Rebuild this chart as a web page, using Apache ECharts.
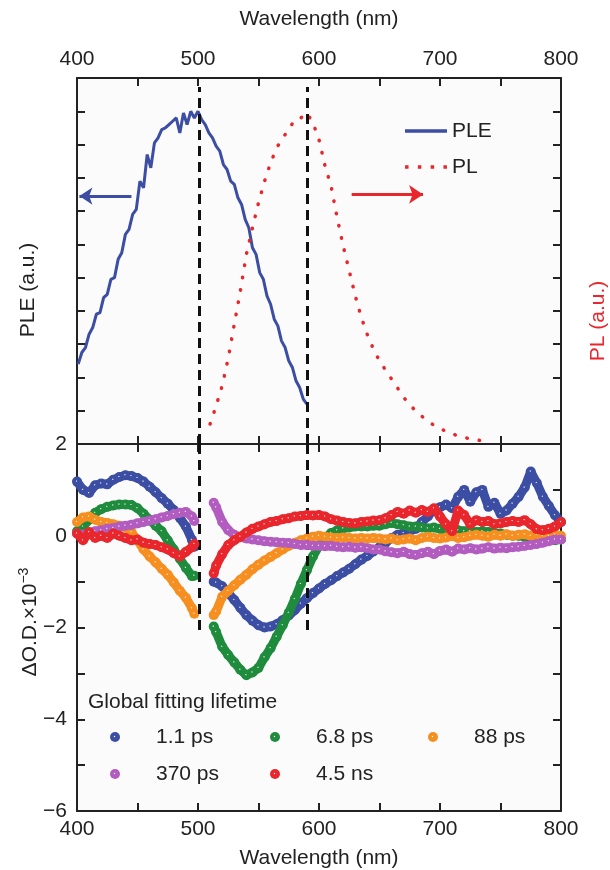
<!DOCTYPE html>
<html lang="en">
<head>
<meta charset="UTF-8">
<title>PLE / PL and transient absorption</title>
<script src="https://cdn.jsdelivr.net/npm/echarts@6/dist/echarts.min.js"></script>
<style>
  html, body { margin: 0; padding: 0; background: #fff; }
  #main { width: 610px; height: 870px; }
</style>
</head>
<body>
<div id="main"></div>
<script>
// ---- data ----
// top panel: PLE (blue line) and PL (red dots), arbitrary units
const pleWl = [401,404,407,410,413,416,419,422,425,428,431,434,437,440,443,446,449,452,455,458,
  461,464,467,470,473,476,479,482,485,488,491,494,497,500,503,506,509,512,515,518,
  521,524,527,530,533,536,539,542,545,548,551,554,557,560,563,566,569,572,575,578,
  581,584,587,590]
const pleVal = [2.4,2.75,2.9,3.3,3.5,3.9,3.95,4.4,4.5,4.95,5.0,5.55,5.75,6.3,6.45,6.9,7.05,7.9,7.7,8.7,
  8.3,9.05,9.2,9.45,9.5,9.6,9.7,9.8,9.35,9.95,9.6,10.0,9.8,10.0,9.75,9.6,9.35,9.2,8.95,8.8,
  8.4,8.25,7.9,7.8,7.4,7.2,6.75,6.5,5.9,5.7,5.15,4.95,4.45,4.2,3.75,3.55,3.1,2.9,2.5,2.3,
  1.9,1.7,1.35,1.2]
const plWl = [510,515,520,525,530,535,540,545,550,555,560,565,570,575,580,585,590,595,600,605,
  610,615,620,625,630,635,640,645,650,655,660,665,670,675,680,685,690,695,700,705,
  710,715,720,725,730,735,740]
const plVal = [0.6,1.15,1.75,2.58,3.6,4.6,5.7,6.5,7.25,7.9,8.45,8.9,9.2,9.45,9.75,9.8,9.95,9.65,9.15,8.35,
  7.75,6.8,5.95,5.2,4.45,3.8,3.28,2.85,2.5,2.22,1.95,1.68,1.4,1.18,0.99,0.83,0.69,0.56,0.47,0.38,
  0.31,0.24,0.19,0.16,0.13,0.09,0.07]

// bottom panel: global fitting components, dO.D. x 1e-3 (gap around the pump)
const wlLeft = [400,405,410,415,420,425,430,435,440,445,450,455,460,465,470,475,480,485,490,495,497]
const wlRight = [513,515,520,525,530,535,540,545,550,555,560,565,570,575,580,585,590,595,600,605,
  610,615,620,625,630,635,640,645,650,655,660,665,670,675,680,685,690,695,700,705,
  710,715,720,725,730,735,740,745,750,755,760,765,770,775,780,785,790,795,800]

const ps1Left = [1.18,1.0,0.93,1.1,1.14,1.12,1.22,1.28,1.32,1.3,1.26,1.18,1.07,0.95,0.82,0.7,0.56,0.39,0.2,-0.09,-0.24]
const ps1Right = [-1.0,-1.02,-1.1,-1.25,-1.4,-1.57,-1.73,-1.85,-1.95,-2.0,
  -1.98,-1.93,-1.84,-1.74,-1.62,-1.48,-1.36,-1.25,-1.15,-1.05,
  -0.97,-0.88,-0.8,-0.72,-0.62,-0.52,-0.44,-0.34,-0.25,-0.15,
  -0.05,0.02,0.06,0.1,0.15,0.3,0.42,0.58,0.62,0.68,
  0.6,0.85,1.0,0.74,0.95,1.0,0.63,0.72,0.48,0.55,
  0.7,0.85,1.05,1.4,1.15,0.85,0.65,0.45,0.3]

const ps7Left = [0.1,0.2,0.35,0.5,0.58,0.63,0.66,0.68,0.68,0.67,0.6,0.48,0.35,0.22,0.1,-0.1,-0.3,-0.5,-0.7,-0.88,-0.87]
const ps7Right = [-1.98,-2.1,-2.42,-2.6,-2.76,-2.92,-3.04,-2.98,-2.88,-2.65,
  -2.45,-2.2,-1.95,-1.68,-1.38,-1.05,-0.75,-0.45,-0.22,-0.05,
  0.06,0.12,0.16,0.18,0.2,0.2,0.2,0.22,0.22,0.25,
  0.28,0.25,0.23,0.2,0.2,0.18,0.16,0.18,0.15,0.12,
  0.15,0.12,0.1,0.1,0.08,0.1,0.08,0.05,0.05,0.02,
  0.0,0.0,-0.02,-0.05,-0.05,-0.08,-0.1,-0.1,-0.08]

const ps88Left = [0.3,0.4,0.42,0.35,0.3,0.28,0.25,0.22,0.18,0.08,-0.1,-0.3,-0.45,-0.58,-0.72,-0.85,-1.02,-1.2,-1.35,-1.58,-1.7]
const ps88Right = [-1.73,-1.65,-1.33,-1.2,-1.08,-0.96,-0.85,-0.73,-0.63,-0.54,
  -0.46,-0.38,-0.3,-0.22,-0.15,-0.1,-0.06,-0.02,0.0,-0.02,
  -0.04,-0.05,-0.04,-0.05,-0.06,-0.05,-0.06,-0.05,-0.06,-0.08,
  -0.06,-0.1,-0.08,-0.06,-0.1,-0.05,-0.02,-0.05,-0.06,-0.04,
  0.0,-0.05,-0.03,0.0,0.02,0.0,-0.02,0.02,0.0,0.03,
  0.0,0.02,0.03,0.0,0.02,0.0,0.0,0.02,0.0]

const ps370Left = [0.05,0.02,0.06,0.1,0.12,0.15,0.17,0.2,0.22,0.24,0.27,0.3,0.33,0.36,0.4,0.43,0.47,0.5,0.52,0.42,0.32]
const ps370Right = [0.72,0.62,0.3,0.12,0.02,-0.03,-0.06,-0.08,-0.1,-0.12,
  -0.13,-0.14,-0.15,-0.16,-0.18,-0.2,-0.2,-0.22,-0.22,-0.23,
  -0.22,-0.24,-0.25,-0.24,-0.26,-0.25,-0.27,-0.3,-0.3,-0.34,
  -0.36,-0.38,-0.35,-0.4,-0.42,-0.38,-0.35,-0.4,-0.33,-0.3,
  -0.35,-0.28,-0.3,-0.27,-0.3,-0.28,-0.25,-0.28,-0.26,-0.27,
  -0.25,-0.24,-0.22,-0.2,-0.18,-0.15,-0.12,-0.08,-0.08]

const ns45Left = [0.05,-0.1,0.08,-0.05,0.0,-0.05,0.05,0.0,-0.05,-0.1,-0.08,-0.15,-0.18,-0.2,-0.25,-0.3,-0.38,-0.45,-0.35,-0.25,-0.18]
const ns45Right = [-0.82,-0.65,-0.4,-0.2,-0.1,-0.02,0.07,0.15,0.2,0.25,
  0.3,0.32,0.36,0.38,0.42,0.43,0.45,0.44,0.45,0.42,
  0.36,0.33,0.3,0.28,0.27,0.3,0.31,0.33,0.34,0.38,
  0.45,0.52,0.48,0.55,0.5,0.56,0.52,0.6,0.42,0.25,
  0.1,0.55,0.45,0.25,0.34,0.3,0.32,0.25,0.27,0.3,
  0.32,0.3,0.34,0.25,0.14,0.12,0.15,0.2,0.3]

const lifetimes = ['1.1 ps', '6.8 ps', '88 ps', '370 ps', '4.5 ns']
const lifeColors = ['#3b4ea3', '#1e8b3d', '#f68f1f', '#b25cc0', '#e8262b']
const lifeLeft = [ps1Left, ps7Left, ps88Left, ps370Left, ns45Left]
const lifeRight = [ps1Right, ps7Right, ps88Right, ps370Right, ns45Right]

const dashWl = [501, 590] // vertical guide lines
const xTicks = [400, 500, 600, 700, 800]

// ---- chart ----
const FONT = "'Liberation Sans', Arial, Helvetica, sans-serif"
const INK = '#222'
const mcharts = echarts.init(document.getElementById('main'))

const zip = (xs, ys) => xs.map((x, i) => [x, ys[i]])

function xAx(gridIndex, position, labels) {
  return {
    type: 'value', gridIndex, position, min: 400, max: 800, interval: 50,
    axisLine: { onZero: false, lineStyle: { color: INK, width: 2 } },
    axisTick: { inside: true, length: 8, lineStyle: { color: INK, width: 2 } },
    axisLabel: {
      show: labels, margin: 8, fontSize: 21, fontFamily: FONT, color: INK,
      formatter: v => xTicks.includes(v) ? String(v) : ''
    },
    splitLine: { show: false }
  }
}
function yAx(gridIndex, position, min, max, labels) {
  return {
    type: 'value', gridIndex, position, min, max, interval: 1,
    axisLine: { onZero: false, lineStyle: { color: INK, width: 2 } },
    axisTick: { inside: true, length: 8, lineStyle: { color: INK, width: 2 } },
    axisLabel: {
      show: labels, margin: 10, fontSize: 21, fontFamily: FONT, color: INK,
      formatter: v => v % 2 === 0 ? String(v).replace('-', '\u2212') : ''
    },
    splitLine: { show: false }
  }
}

// a sphere-ish marker: colour with a small light centre
const ball = c => ({
  type: 'radial', x: 0.45, y: 0.45, r: 0.5,
  colorStops: [{ offset: 0, color: 'rgba(255,255,255,0.9)' }, { offset: 0.22, color: c }, { offset: 1, color: c }]
})

const taSeries = []
lifetimes.forEach((name, k) => {
  [zip(wlLeft, lifeLeft[k]), zip(wlRight, lifeRight[k])].forEach(d => {
    taSeries.push({
      name, type: 'line', xAxisIndex: 2, yAxisIndex: 2, data: d,
      symbol: 'circle', symbolSize: 10, showSymbol: true,
      lineStyle: { color: lifeColors[k], width: 9 },
      itemStyle: { color: ball(lifeColors[k]) },
      z: 2 + k
    })
  })
})

const legendRows = [[115, 737], [275, 737], [433, 737], [115, 774], [275, 774]]
const taLegends = lifetimes.map((name, k) => ({
  data: [name], left: legendRows[k][0] - 5, top: legendRows[k][1] - 11,
  padding: 0, icon: 'circle', itemWidth: 10, itemHeight: 10,
  textStyle: { fontSize: 21, fontFamily: FONT, color: INK, lineHeight: 22, padding: [0, 0, 0, 31] },
  selectedMode: false
}))

// legend samples: a solid bar for PLE, four dots for PL
const pleIcon = 'path://M0 0H42V3.5H0Z'
const plIcon = 'path://M0 0h3.5v3.5h-3.5zM12.8 0h3.5v3.5h-3.5zM25.6 0h3.5v3.5h-3.5zM38.4 0h3.5v3.5h-3.5z'

const option = {
  animation: false,
  grid: [
    { left: 77, right: 49, top: 78, height: 366, show: true, backgroundColor: '#fbfbfb', borderWidth: 0 },
    { left: 77, right: 49, top: 444, height: 367, show: true, backgroundColor: '#fbfbfb', borderWidth: 0 }
  ],
  xAxis: [xAx(0, 'top', true), xAx(0, 'bottom', false), xAx(1, 'bottom', true), xAx(1, 'top', false)],
  yAxis: [yAx(0, 'left', 0, 11, false), yAx(0, 'right', 0, 11, false),
          yAx(1, 'left', -6, 2, true), yAx(1, 'right', -6, 2, false)],
  legend: [{
    data: [{ name: 'PLE', icon: pleIcon }, { name: 'PL', icon: plIcon }],
    orient: 'vertical', left: 405, top: 120, padding: 0,
    itemWidth: 42, itemHeight: 3.5, itemGap: 14, selectedMode: false,
    textStyle: { fontSize: 21, fontFamily: FONT, color: INK, lineHeight: 22 }
  }].concat(taLegends),
  series: [
    {
      name: 'PLE', type: 'line', xAxisIndex: 0, yAxisIndex: 0, data: zip(pleWl, pleVal),
      symbol: 'none', lineStyle: { color: '#3b4ea3', width: 3 }, itemStyle: { color: '#3b4ea3' },
      markLine: {
        silent: true, symbol: ['none', 'arrow'], symbolSize: [13, 13], label: { show: false },
        lineStyle: { color: '#3b4ea3', width: 3, type: 'solid' },
        data: [[{ coord: [445, 7.45] }, { coord: [402, 7.45] }]]
      }
    },
    {
      name: 'PL', type: 'line', xAxisIndex: 0, yAxisIndex: 1, data: zip(plWl, plVal),
      symbol: 'none', itemStyle: { color: '#e8262b' },
      lineStyle: { color: '#e8262b', width: 3.5, type: [0.5, 12], cap: 'round' },
      markLine: {
        silent: true, symbol: ['none', 'arrow'], symbolSize: [14, 14], label: { show: false },
        lineStyle: { color: '#e8262b', width: 3, type: 'solid', cap: 'butt' },
        data: [[{ coord: [627, 7.5] }, { coord: [686, 7.5] }]]
      }
    }
  ].concat(taSeries).concat([
    {
      name: 'guideTop', type: 'line', xAxisIndex: 0, yAxisIndex: 0, data: [], z: 20,
      markLine: {
        silent: true, symbol: 'none', label: { show: false },
        lineStyle: { color: '#111', width: 3, type: [10, 6] },
        data: dashWl.map(w => [{ coord: [w, 0] }, { coord: [w, 10.73] }])
      }
    },
    {
      name: 'guideBottom', type: 'line', xAxisIndex: 2, yAxisIndex: 2, data: [], z: 20,
      markLine: {
        silent: true, symbol: 'none', label: { show: false },
        lineStyle: { color: '#111', width: 3, type: [10, 6] },
        data: dashWl.map(w => [{ coord: [w, 2] }, { coord: [w, -2.16] }])
      }
    }
  ]),
  graphic: [
    { type: 'text', x: 319, y: 19, style: { text: 'Wavelength (nm)', fontSize: 21, fontFamily: FONT, fill: INK, align: 'center', verticalAlign: 'middle' } },
    { type: 'text', x: 319, y: 858, style: { text: 'Wavelength (nm)', fontSize: 21, fontFamily: FONT, fill: INK, align: 'center', verticalAlign: 'middle' } },
    { type: 'text', x: 28, y: 290, rotation: Math.PI / 2, style: { text: 'PLE (a.u.)', fontSize: 21, fontFamily: FONT, fill: INK, align: 'center', verticalAlign: 'middle' } },
    { type: 'text', x: 598, y: 321, rotation: Math.PI / 2, style: { text: 'PL (a.u.)', fontSize: 21, fontFamily: FONT, fill: '#e8262b', align: 'center', verticalAlign: 'middle' } },
    {
      type: 'text', x: 30, y: 622, rotation: Math.PI / 2,
      style: {
        text: '{a|\u0394O.D.\u00d710}{b|\u22123}', align: 'center', verticalAlign: 'middle', fill: INK,
        rich: {
          a: { fontSize: 21, fontFamily: FONT, fill: INK },
          b: { fontSize: 14, fontFamily: FONT, fill: INK, padding: [0, 0, 12, 0] }
        }
      }
    },
    { type: 'text', x: 88, y: 702, style: { text: 'Global fitting lifetime', fontSize: 21, fontFamily: FONT, fill: INK, align: 'left', verticalAlign: 'middle' } }
  ]
}

mcharts.setOption(option)
</script>
</body>
</html>
